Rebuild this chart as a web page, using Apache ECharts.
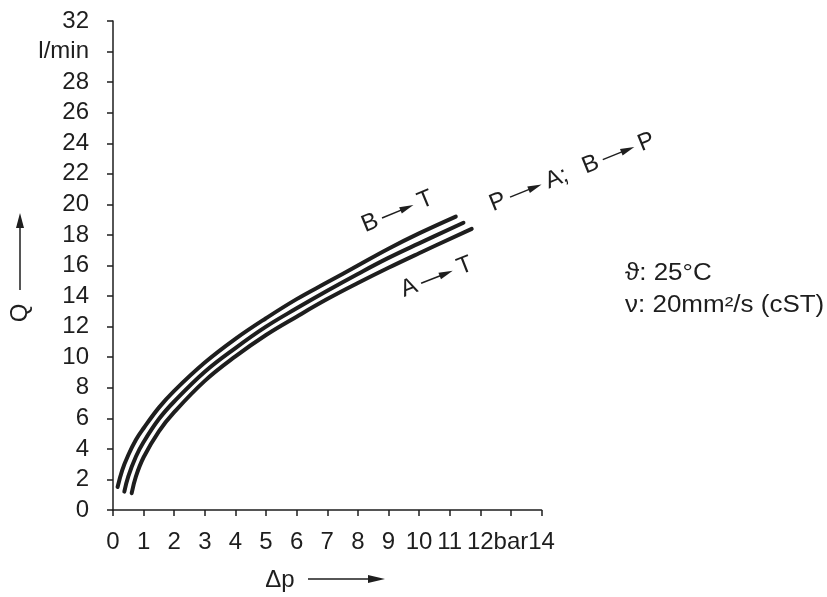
<!DOCTYPE html>
<html>
<head>
<meta charset="utf-8">
<script src="https://cdn.jsdelivr.net/npm/echarts@6/dist/echarts.min.js"></script>
<style>
html,body{margin:0;padding:0;background:#fff;}
#chart{width:827px;height:597px;}
</style>
</head>
<body>
<div id="chart"></div>
<script>
// ---- data ----
const xTickLabels = ['0','1','2','3','4','5','6','7','8','9','10','11','12','bar','14'];
const yTickLabels = ['0','2','4','6','8','10','12','14','16','18','20','22','24','26','28','l/min','32'];

// B -> T (upper curve)
const curveBT = [[0.15,1.5],[0.3,2.6],[0.5,3.6],[0.75,4.6],[1,5.35],[1.5,6.7],[2,7.8],[3,9.65],[4,11.2],[5,12.55],[6,13.8],[7,14.9],[8,16.0],[9,17.1],[10,18.1],[11.2,19.2]];
// P -> A; B -> P (middle curve)
const curvePA = [[0.37,1.2],[0.5,2.2],[0.75,3.5],[1,4.45],[1.5,5.95],[2,7.1],[3,9.05],[4,10.6],[5,12.0],[6,13.2],[7,14.35],[8,15.45],[9,16.5],[10,17.45],[11.45,18.8]];
// A -> T (lower curve)
const curveAT = [[0.61,1.1],[0.75,2.2],[1,3.45],[1.5,5.15],[2,6.4],[3,8.45],[4,10.05],[5,11.45],[6,12.65],[7,13.8],[8,14.85],[9,15.85],[10,16.8],[11.72,18.4]];

const condLine1 = 'ϑ: 25°C';
const condLine2 = 'ν: 20mm²/s (cST)';

// ---- chart ----
const FONT = '"Liberation Sans", Arial, sans-serif';
const INK = '#1e1e1e';
const chart = echarts.init(document.getElementById('chart'), null, {renderer:'canvas'});

function txt(t, x, y, size, align) {
  return {type:'text', x:x, y:y, style:{text:t, fill:INK, fontSize:size, fontFamily:FONT,
    textAlign:align||'center', textVerticalAlign:'middle'}};
}
function arrow(x0, x1) {
  return [
    {type:'line', shape:{x1:x0, y1:0, x2:x1-10, y2:0}, style:{stroke:INK, lineWidth:1.5}},
    {type:'polygon', shape:{points:[[x1-14,-3.5],[x1,0],[x1-14,3.5]]}, style:{fill:INK}}
  ];
}
function group(x, y, deg, children) {
  return {type:'group', x:x, y:y, rotation:deg*Math.PI/180, children:children};
}

const graphics = [
  // B -> T
  group(370, 223, 22.5, [txt('B',0,0,24), ...arrow(13,47), txt('T',60,0,24)]),
  // A -> T
  group(409, 288, 21.5, [txt('A',0,0,24), ...arrow(13,47), txt('T',60,0,24)]),
  // P -> A; B -> P
  group(498, 202, 22, [txt('P',0,0,24), ...arrow(13,47), txt('A;',52,0,24,'left'),
                       txt('B',100,0,24), ...arrow(113,147), txt('P',160,0,24)]),
  // Q axis title with arrow
  {type:'text', x:20, y:313, rotation:Math.PI/2, style:{text:'Q', fill:INK, fontSize:24, fontFamily:FONT, textAlign:'center', textVerticalAlign:'middle'}},
  {type:'line', shape:{x1:20, y1:290, x2:20, y2:226}, style:{stroke:INK, lineWidth:1.5}},
  {type:'polygon', shape:{points:[[16,228],[20,213],[24,228]]}, style:{fill:INK}},
  // Δp axis title with arrow
  txt('Δp', 280, 580, 24),
  {type:'line', shape:{x1:308, y1:579, x2:372, y2:579}, style:{stroke:INK, lineWidth:1.5}},
  {type:'polygon', shape:{points:[[368,575],[385,579],[368,583]]}, style:{fill:INK}},
  // conditions
  {type:'text', x:625, y:274, scaleX:1.13, style:{text:condLine1, fill:INK, fontSize:23, fontFamily:FONT, textAlign:'left', textVerticalAlign:'middle'}},
  {type:'text', x:625, y:306, scaleX:1.13, style:{text:condLine2, fill:INK, fontSize:23, fontFamily:FONT, textAlign:'left', textVerticalAlign:'middle'}}
];

function lineSeries(name, data) {
  return {name:name, type:'line', data:data, smooth:0.4, showSymbol:false, symbol:'none',
    lineStyle:{color:INK, width:4, cap:'round'}, silent:true, animation:false};
}

chart.setOption({
  animation:false,
  backgroundColor:'#fff',
  grid:{left:113, top:21, width:428.5, height:489, containLabel:false},
  xAxis:{type:'value', min:0, max:14, interval:1,
    axisLine:{show:true, lineStyle:{color:INK, width:1.5}},
    axisTick:{show:true, length:6, lineStyle:{color:INK, width:1.5}},
    splitLine:{show:false},
    axisLabel:{margin:20, color:INK, fontSize:24, fontFamily:FONT,
      formatter:function(v){ return xTickLabels[Math.round(v)]; }}},
  yAxis:{type:'value', min:0, max:32, interval:2,
    axisLine:{show:true, lineStyle:{color:INK, width:1.5}},
    axisTick:{show:true, length:6, lineStyle:{color:INK, width:1.5}},
    splitLine:{show:false},
    axisLabel:{margin:24, color:INK, fontSize:24, fontFamily:FONT,
      formatter:function(v){ return yTickLabels[Math.round(v/2)]; }}},
  series:[lineSeries('B → T', curveBT), lineSeries('P → A; B → P', curvePA), lineSeries('A → T', curveAT)],
  graphic:graphics
});
</script>
</body>
</html>
